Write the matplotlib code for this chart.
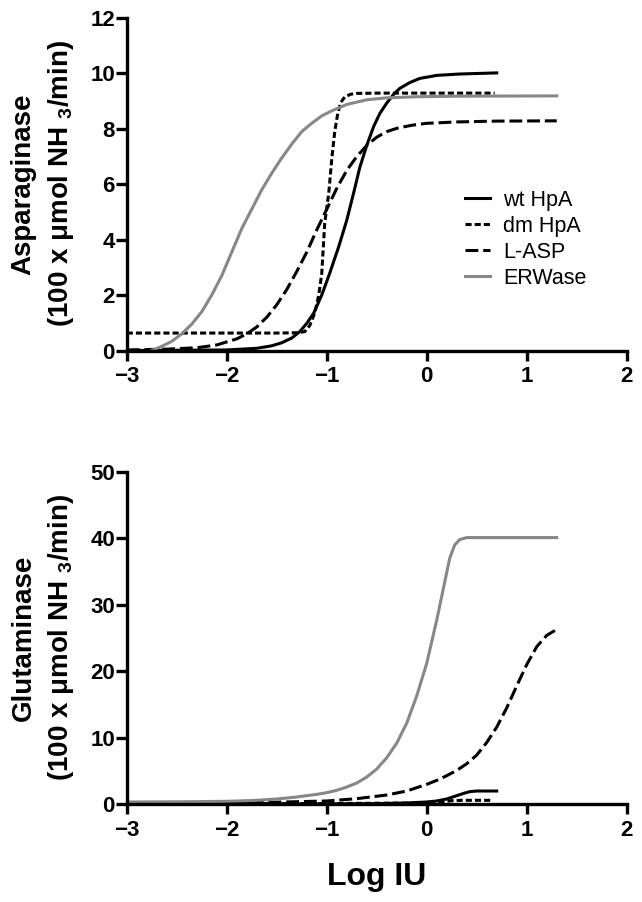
import numpy as np
import matplotlib.pyplot as plt

plt.rcParams['font.family'] = ['Liberation Sans', 'DejaVu Sans']
plt.rcParams['mathtext.fontset'] = 'custom'
plt.rcParams['mathtext.rm'] = 'Liberation Sans:bold'
plt.rcParams['mathtext.default'] = 'rm'

# ---- top panel: asparaginase activity vs log IU ----
wt_x = [-3.0, -2.0, -1.7, -1.55, -1.45, -1.35, -1.27, -1.2, -1.13, -1.05, -0.97, -0.88,
        -0.80, -0.73, -0.67, -0.60, -0.53, -0.47, -0.40, -0.33, -0.27, -0.17, -0.07, 0.10, 0.33, 0.70]
wt_y = [0.0, 0.02, 0.08, 0.17, 0.28, 0.45, 0.68, 0.98, 1.35, 2.0, 2.79, 3.75,
        4.7, 5.7, 6.6, 7.4, 8.09, 8.55, 8.93, 9.25, 9.46, 9.67, 9.82, 9.93, 9.98, 10.02]

dm_x = [-3.0, -1.5, -1.3, -1.22, -1.17, -1.12, -1.08, -1.05, -1.02, -0.98, -0.95, -0.92,
        -0.89, -0.86, -0.82, -0.76, -0.70, -0.5, 0.0, 0.68]
dm_y = [0.63, 0.63, 0.64, 0.68, 0.9, 1.35, 2.0, 2.77, 4.6, 5.67, 6.9, 7.9,
        8.55, 8.95, 9.15, 9.25, 9.28, 9.29, 9.29, 9.29]

la_x = [-3.0, -2.6, -2.3, -2.1, -1.9, -1.8, -1.7, -1.6, -1.5, -1.4, -1.3, -1.2, -1.1,
        -1.0, -0.9, -0.8, -0.7, -0.6, -0.5, -0.4, -0.3, -0.15, 0.0, 0.3, 0.7, 1.3]
la_y = [0.02, 0.05, 0.1, 0.2, 0.42, 0.6, 0.85, 1.2, 1.65, 2.2, 2.85, 3.55, 4.35,
        5.1, 5.85, 6.5, 7.0, 7.4, 7.7, 7.9, 8.02, 8.13, 8.2, 8.25, 8.28, 8.29]

er_x = [-2.75, -2.65, -2.55, -2.45, -2.35, -2.25, -2.15, -2.05, -1.95, -1.85, -1.75,
        -1.65, -1.55, -1.45, -1.35, -1.25, -1.15, -1.05, -0.95, -0.8, -0.6, -0.4,
        -0.1, 0.3, 1.3]
er_y = [0.0, 0.15, 0.33, 0.6, 0.95, 1.4, 2.0, 2.7, 3.55, 4.4, 5.1,
        5.8, 6.4, 6.95, 7.45, 7.9, 8.2, 8.47, 8.65, 8.88, 9.05, 9.12,
        9.16, 9.18, 9.19]

# ---- bottom panel: glutaminase activity vs log IU ----
wt2_x = [-3.0, -1.0, -0.5, -0.2, 0.0, 0.1, 0.2, 0.3, 0.37, 0.43, 0.5, 0.7]
wt2_y = [0.05, 0.06, 0.1, 0.2, 0.35, 0.5, 0.8, 1.3, 1.65, 1.9, 2.0, 2.0]

dm2_x = [-3.0, -1.0, 0.0, 0.15, 0.25, 0.35, 0.65]
dm2_y = [0.1, 0.12, 0.2, 0.35, 0.55, 0.6, 0.6]

la2_x = [-3.0, -2.0, -1.5, -1.0, -0.7, -0.4, -0.2, 0.0, 0.1, 0.2, 0.3, 0.4, 0.5, 0.6,
         0.7, 0.8, 0.9, 1.0, 1.1, 1.2, 1.3]
la2_y = [0.2, 0.25, 0.32, 0.5, 0.85, 1.4, 2.0, 3.0, 3.6, 4.3, 5.1, 6.1, 7.4, 9.3,
         11.6, 14.5, 17.8, 21.0, 23.7, 25.4, 26.3]

er2_x = [-3.0, -2.5, -2.0, -1.7, -1.5, -1.3, -1.1, -1.0, -0.9, -0.8, -0.7, -0.6, -0.5,
         -0.4, -0.3, -0.2, -0.1, 0.0, 0.1, 0.17, 0.23, 0.28, 0.33, 0.4, 0.6, 1.3]
er2_y = [0.35, 0.38, 0.45, 0.6, 0.8, 1.1, 1.5, 1.75, 2.1, 2.6, 3.2, 4.1, 5.3,
         7.0, 9.2, 12.2, 16.3, 21.2, 27.7, 32.7, 37.0, 39.0, 39.8, 40.1, 40.1, 40.1]

labels = ['wt HpA', 'dm HpA', 'L-ASP', 'ERWase']
x_ticks = [-3, -2, -1, 0, 1, 2]
top_yticks = [0, 2, 4, 6, 8, 10, 12]
bot_yticks = [0, 10, 20, 30, 40, 50]

gray = '#878787'
lw = 2.2


def draw(ax, wx, wy, dx, dy, lx, ly, ex, ey):
    ax.plot(wx, wy, color='black', lw=lw, label=labels[0])
    ax.plot(dx, dy, color='black', lw=lw, dashes=(2.0, 1.0), label=labels[1])
    ax.plot(lx, ly, color='black', lw=lw, dashes=(4.2, 1.6), label=labels[2])
    ax.plot(ex, ey, color=gray, lw=lw, label=labels[3])


def style(ax, yticks):
    ax.set_xlim(-3, 2)
    ax.set_ylim(yticks[0], yticks[-1])
    ax.set_xticks(x_ticks)
    ax.set_yticks(yticks)
    for s in ['top', 'right']:
        ax.spines[s].set_visible(False)
    for s in ['left', 'bottom']:
        ax.spines[s].set_linewidth(2.4)
    ax.tick_params(axis='both', width=2.4, labelsize=16, direction='out')
    ax.tick_params(axis='y', length=8, pad=0.5)
    ax.tick_params(axis='x', length=7.5, pad=4)
    for t in ax.get_xticklabels() + ax.get_yticklabels():
        t.set_fontweight('bold')


fig = plt.figure(figsize=(6.42, 9.02), dpi=100)
ax1 = fig.add_axes([0.1974, 0.6114, 0.7788, 0.3686])
ax2 = fig.add_axes([0.1974, 0.1083, 0.7788, 0.3687])

draw(ax1, wt_x, wt_y, dm_x, dm_y, la_x, la_y, er_x, er_y)
draw(ax2, wt2_x, wt2_y, dm2_x, dm2_y, la2_x, la2_y, er2_x, er2_y)
style(ax1, top_yticks)
style(ax2, bot_yticks)

ax1.legend(loc='upper left', bbox_to_anchor=(0.6766, 0.483), frameon=False,
           borderpad=0, borderaxespad=0, handlelength=1.16, handletextpad=0.6,
           labelspacing=0.23, fontsize=15.5)

# two-line y labels
fig.text(0.0366, 0.796, 'Asparaginase', rotation=90, ha='center', va='center',
         fontsize=20, fontweight='bold')
fig.text(0.095, 0.796, '(100 x \u03bcmol NH $_3$/min)', rotation=90, ha='center',
         va='center', fontsize=20, fontweight='bold')
fig.text(0.0366, 0.2927, 'Glutaminase', rotation=90, ha='center', va='center',
         fontsize=20, fontweight='bold')
fig.text(0.095, 0.2927, '(100 x \u03bcmol NH $_3$/min)', rotation=90, ha='center',
         va='center', fontsize=20, fontweight='bold')
fig.text(0.5868, 0.0277, 'Log IU', ha='center', va='center', fontsize=23,
         fontweight='bold')

plt.savefig('out.png', dpi=100)
